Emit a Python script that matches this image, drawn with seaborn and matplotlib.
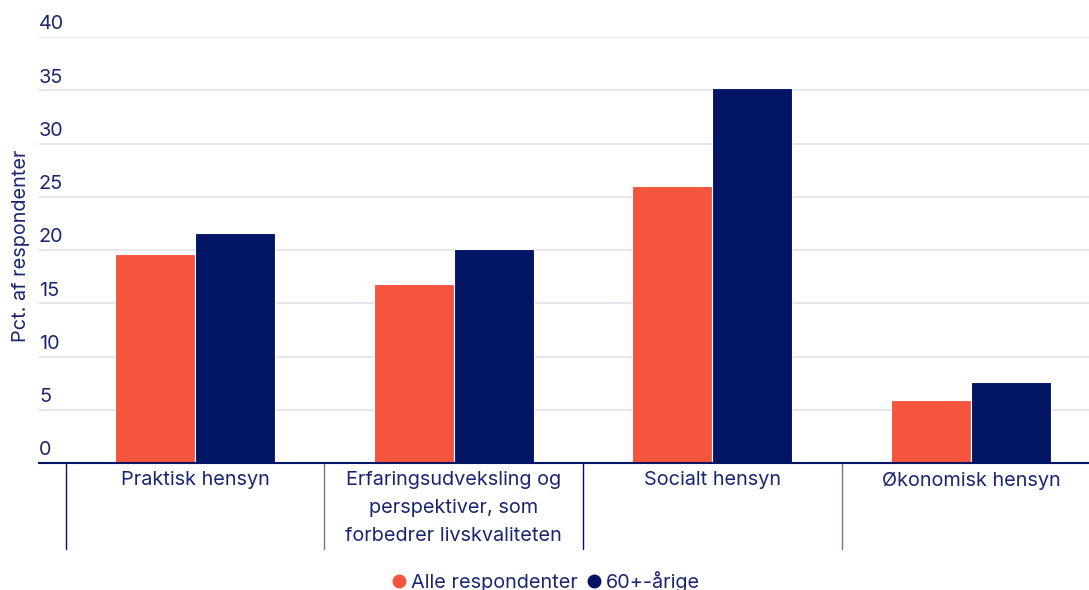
"""
Genskaber søjlediagram: begrundelser for fællesskab, alle respondenter vs. 60+-årige.
"""
import pandas as pd
import matplotlib.pyplot as plt
import seaborn as sns
from matplotlib.lines import Line2D
import matplotlib.transforms as mtransforms

# Data
kategorier = ['Praktisk hensyn',
              'Erfaringsudveksling og\nperspektiver, som\nforbedrer livskvaliteten',
              'Socialt hensyn',
              'Økonomisk hensyn']
alle_respondenter = [19.6, 16.8, 26.0, 5.9]
aarige_60 = [21.6, 20.1, 35.2, 7.6]
serier = ['Alle respondenter', '60+-årige']
y_ticks = [0, 5, 10, 15, 20, 25, 30, 35, 40]

ORANGE = '#F5553C'
NAVY = '#021464'
TEKST = '#1B2670'
GRID = '#E1E1EA'
FS = 14.3


def main():
    sns.set_theme(style='white')
    plt.rcParams['font.family'] = ['Inter', 'DejaVu Sans']

    df = pd.DataFrame({
        'Kategori': kategorier * 2,
        'Serie': [serier[0]] * len(kategorier) + [serier[1]] * len(kategorier),
        'Pct': alle_respondenter + aarige_60,
    })

    fig = plt.figure(figsize=(10.89, 5.90), dpi=100)
    ax = fig.add_axes([39 / 1089, 127 / 590, 1 - 39 / 1089, 426 / 590])

    sns.barplot(data=df, x='Kategori', y='Pct', hue='Serie',
                palette=[ORANGE, NAVY], saturation=1, width=0.62, ax=ax,
                edgecolor='white', linewidth=0.8, legend=False)

    ax.set_xlim(-0.604, 3.457)
    ax.set_ylim(0, 40)

    # gitterlinjer og y-etiketter over linjerne
    ax.set_yticks(y_ticks)
    ax.set_yticklabels([])
    ax.tick_params(axis='y', length=0)
    for v in y_ticks[1:]:
        ax.axhline(v, color=GRID, linewidth=1.2, zorder=0)
    trans = mtransforms.blended_transform_factory(ax.transAxes, ax.transData)
    for v in y_ticks:
        ax.text(0.0, v + 0.35, str(v), transform=trans, ha='left', va='bottom',
                fontsize=FS, color=TEKST)

    ax.set_ylabel('Pct. af respondenter', fontsize=FS, color=TEKST)
    ax.yaxis.set_label_coords(-0.0085, 0.51)
    ax.set_xlabel('')

    for s in ['top', 'right', 'left']:
        ax.spines[s].set_visible(False)
    ax.spines['bottom'].set_color(NAVY)
    ax.spines['bottom'].set_linewidth(1.5)

    ax.tick_params(axis='x', length=0, pad=6, labelsize=FS, labelcolor=TEKST)
    for lbl in ax.get_xticklabels():
        lbl.set_linespacing(1.7)

    # lodrette skillelinjer under x-aksen
    sep = mtransforms.blended_transform_factory(ax.transData, ax.transAxes)
    for i in range(len(kategorier) + 1):
        ax.plot([i - 0.5, i - 0.5], [0, -86 / 426], transform=sep,
                color=NAVY if i % 2 == 0 else '#6E76A6', linewidth=1.0,
                clip_on=False)

    handles = [Line2D([], [], marker='o', linestyle='', color=c, markersize=9)
               for c in [ORANGE, NAVY]]
    leg = fig.legend(handles, serier, loc='center',
                     bbox_to_anchor=(0.5, 9 / 590), ncol=2, frameon=False,
                     fontsize=FS, handletextpad=0.1, columnspacing=0.3,
                     handlelength=1.0)
    for t in leg.get_texts():
        t.set_color(TEKST)

    plt.savefig('out.png', dpi=100)
    plt.close()


if __name__ == '__main__':
    main()
